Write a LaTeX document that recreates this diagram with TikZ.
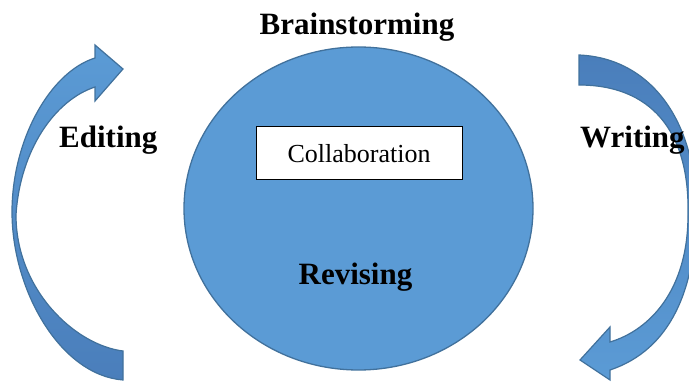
\documentclass[tikz,border=0pt]{standalone}
\usepackage{fontspec}
\setmainfont{Liberation Serif}
\usetikzlibrary{shapes.geometric}

\definecolor{circfill}{HTML}{5B9BD5}
\definecolor{circline}{HTML}{41719C}
\definecolor{arrowdark}{HTML}{4A7EBB}

\begin{document}
\begin{tikzpicture}[
        x=1pt, y=-1pt,
        label/.style={
            font=\fontsize{31}{36}\selectfont\bfseries, inner sep=0pt
        },
        disc/.style={
            draw=circline, fill=circfill, ellipse, line width=1.3pt,
            minimum width=349pt, minimum height=323pt, inner sep=0pt
        },
        panel/.style={
            draw, fill=white, line width=1pt, align=center,
            minimum width=206pt, minimum height=53pt,
            font=\fontsize{26}{30}\selectfont
        },
        curvearrow/.style={draw=circline, line width=1.2pt, line join=miter}
        ]

        % --- Frame ---
        \useasboundingbox (0,0) rectangle (689,382);
        \clip (0,0) rectangle (689,382);

        % --- Centre: circle and box ---
        \node[disc] (cycle) at (358.5,208.5) {};
        \node[panel] (collab) at (359,153.5) {Collaboration};

        % --- Left arrow (upwards) ---
        \draw[curvearrow, top color=circfill, bottom color=arrowdark]
            (123,380) -- (123,351)
            .. controls (75,345) and (16,290) .. (16,215)
            .. controls (20,150) and (55,100) .. (95,87)
            -- (95,101) -- (123,69) -- (95,45) -- (95,58)
            .. controls (50,72) and (12,140) .. (12,212)
            .. controls (12,290) and (60,375) .. (123,380) -- cycle;

        % --- Right arrow (downwards) ---
        \draw[curvearrow, top color=arrowdark, bottom color=circfill]
            (579,55) -- (579,85)
            .. controls (650,85) and (690,130) .. (688,215)
            .. controls (688,290) and (650,330) .. (610,342)
            -- (610,327) -- (580,360) -- (610,380) -- (610,370)
            .. controls (670,350) and (696,290) .. (696,210)
            .. controls (696,120) and (650,58) .. (579,55) -- cycle;

        % --- Labels ---
        \node[label, anchor=base] (brain) at (357,35) {Brainstorming};
        \node[label, anchor=base west] (edit) at (59,148) {Editing};
        \node[label, anchor=base west] (write) at (580,148) {Writing};
        \node[label, anchor=base] (revise) at (355.5,285) {Revising};

    \end{tikzpicture}
\end{document}
